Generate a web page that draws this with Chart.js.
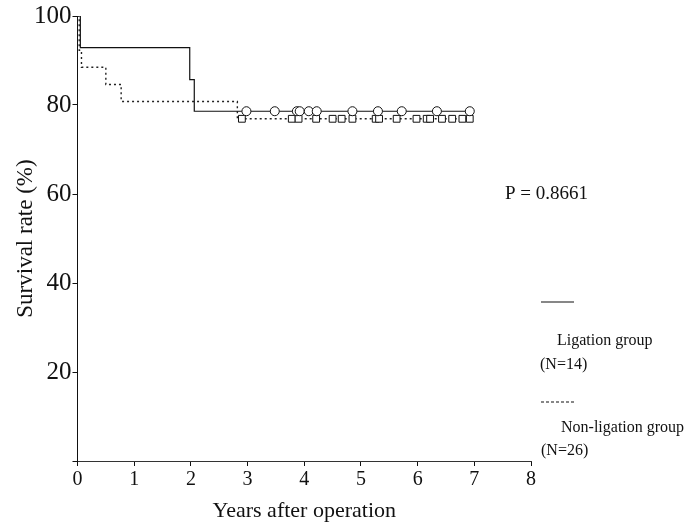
<!DOCTYPE html>
<html>
<head>
<meta charset="utf-8">
<script src="https://cdn.jsdelivr.net/npm/chart.js@4"></script>
<style>
  html, body { margin: 0; padding: 0; background: #fff; }
  #wrap { width: 699px; height: 524px; }
</style>
</head>
<body>
<div id="wrap"><canvas id="c" width="699" height="524"></canvas></div>
<script>
// Kaplan-Meier step data (years, survival %)
const ligTimes = [0, 0.05, 1.98, 2.06, 6.95];
const ligSurv  = [100, 92.9, 85.7, 78.6, 78.6];
const nonTimes = [0, 0.03, 0.07, 0.5, 0.77, 2.82, 6.95];
const nonSurv  = [100, 92.3, 88.5, 84.6, 80.8, 76.9, 76.9];
// censored observations
const ligCensor = [2.98, 3.48, 3.87, 3.92, 4.08, 4.22, 4.85, 5.30, 5.72, 6.34, 6.92];
const ligCensorLevel = 78.6;
const nonCensor = [2.90, 3.78, 3.90, 4.21, 4.50, 4.66, 4.85, 5.26, 5.32, 5.63, 5.98, 6.16, 6.22, 6.43, 6.61, 6.79, 6.92];
const nonCensorLevel = 76.9;
const xTicks = [0, 1, 2, 3, 4, 5, 6, 7, 8];
const yTicks = [0, 20, 40, 60, 80, 100];
const pText = 'P = 0.8661';
const legendTexts = ['Ligation group', '(N=14)', 'Non-ligation group', '(N=26)'];

const serif = "'Liberation Serif', 'Times New Roman', serif";

const toPts = (xs, ys) => xs.map((x, i) => ({x: x, y: ys[i]}));
const censorPts = (xs, lvl) => xs.map(x => ({x: x, y: lvl}));

const overlay = {
  id: 'overlay',
  afterDraw(chart) {
    const ctx = chart.ctx;
    ctx.save();
    ctx.fillStyle = '#111';
    ctx.textBaseline = 'alphabetic';
    ctx.textAlign = 'left';
    ctx.font = '19px ' + serif;
    ctx.fillText(pText, 505, 199);
    // legend
    ctx.strokeStyle = '#111';
    ctx.lineWidth = 1.2;
    ctx.beginPath(); ctx.moveTo(541, 302); ctx.lineTo(574, 302); ctx.stroke();
    ctx.setLineDash([3, 2]);
    ctx.beginPath(); ctx.moveTo(541, 402); ctx.lineTo(576, 402); ctx.stroke();
    ctx.setLineDash([]);
    ctx.font = '16px ' + serif;
    ctx.fillText(legendTexts[0], 557, 345);
    ctx.fillText(legendTexts[1], 540, 369);
    ctx.fillText(legendTexts[2], 561, 432);
    ctx.fillText(legendTexts[3], 541, 455);
    ctx.restore();
  }
};

new Chart(document.getElementById('c'), {
  type: 'scatter',
  data: {
    datasets: [
      {
        label: 'Ligation group',
        data: toPts(ligTimes, ligSurv),
        showLine: true, stepped: 'before',
        borderColor: '#111', borderWidth: 1.2,
        pointRadius: 0, fill: false, order: 2
      },
      {
        label: 'Non-ligation group',
        data: toPts(nonTimes, nonSurv),
        showLine: true, stepped: 'before',
        borderColor: '#222', borderWidth: 1.4, borderDash: [2, 3],
        pointRadius: 0, fill: false, order: 3
      },
      {
        label: 'Ligation censored',
        data: censorPts(ligCensor, ligCensorLevel),
        showLine: false, pointStyle: 'circle', pointRadius: 4.5,
        pointBorderColor: '#111', pointBackgroundColor: '#fff', pointBorderWidth: 1,
        order: 0
      },
      {
        label: 'Non-ligation censored',
        data: censorPts(nonCensor, nonCensorLevel),
        showLine: false, pointStyle: 'rect', pointRadius: 4.8,
        pointBorderColor: '#111', pointBackgroundColor: '#fff', pointBorderWidth: 1,
        order: 1
      }
    ]
  },
  options: {
    responsive: false,
    animation: false,
    devicePixelRatio: 1,
    layout: { padding: { left: 0, right: 168, top: 14, bottom: 0 } },
    plugins: { legend: { display: false }, tooltip: { enabled: false } },
    scales: {
      x: {
        type: 'linear', min: 0, max: 8,
        afterBuildTicks: s => { s.ticks = xTicks.map(v => ({value: v})); },
        afterFit: s => { s.height = 63; },
        grid: { drawOnChartArea: false, drawTicks: true, tickLength: 5, color: '#111', lineWidth: 1 },
        border: { display: true, color: '#333', width: 1 },
        ticks: { color: '#111', font: { family: serif, size: 20 }, padding: 2, maxRotation: 0 },
        title: { display: true, text: 'Years after operation', color: '#111',
                 font: { family: serif, size: 22 }, padding: { top: 0, bottom: 0 } }
      },
      y: {
        type: 'linear', min: 0, max: 100,
        afterBuildTicks: s => { s.ticks = yTicks.map(v => ({value: v})); },
        afterFit: s => { s.width = 77.5; },
        grid: { drawOnChartArea: false, drawTicks: true, tickLength: 5, color: '#111', lineWidth: 1 },
        border: { display: true, color: '#111', width: 1 },
        ticks: { color: '#111', font: { family: serif, size: 25 }, padding: 1,
                 callback: v => (v === 0 ? '' : String(v)) },
        title: { display: true, text: 'Survival rate (%)', color: '#111',
                 font: { family: serif, size: 23 }, padding: { top: 12, bottom: 0 } }
      }
    }
  },
  plugins: [overlay]
});
</script>
</body>
</html>
